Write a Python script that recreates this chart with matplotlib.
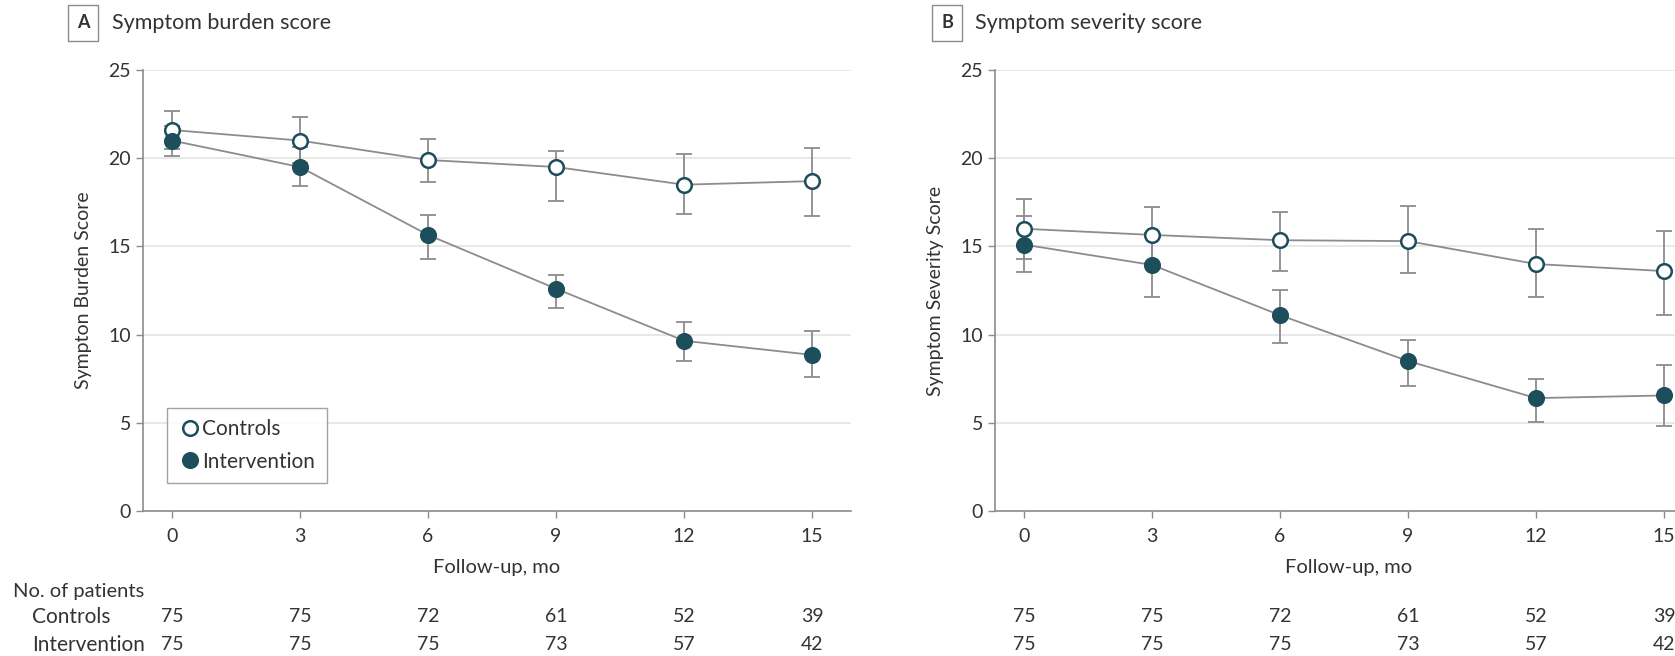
import matplotlib
matplotlib.use("Agg")
import matplotlib.pyplot as plt
from matplotlib.transforms import blended_transform_factory

plt.rcParams['font.family'] = ['Lato', 'DejaVu Sans']

months = [0, 3, 6, 9, 12, 15]

# panel A: symptom burden score
burden_ctrl = [21.6, 21.0, 19.9, 19.5, 18.5, 18.7]
burden_ctrl_lo = [20.5, 19.7, 18.65, 17.55, 16.85, 16.7]
burden_ctrl_hi = [22.7, 22.35, 21.1, 20.4, 20.25, 20.6]
burden_int = [21.0, 19.5, 15.65, 12.6, 9.65, 8.85]
burden_int_lo = [20.15, 18.4, 14.3, 11.5, 8.5, 7.6]
burden_int_hi = [21.85, 20.65, 16.8, 13.4, 10.7, 10.2]

# panel B: symptom severity score
sev_ctrl = [16.0, 15.65, 15.35, 15.3, 14.0, 13.6]
sev_ctrl_lo = [14.3, 14.05, 13.6, 13.5, 12.15, 11.1]
sev_ctrl_hi = [17.7, 17.25, 16.95, 17.3, 16.0, 15.85]
sev_int = [15.1, 13.95, 11.1, 8.5, 6.4, 6.55]
sev_int_lo = [13.55, 12.15, 9.55, 7.1, 5.05, 4.8]
sev_int_hi = [16.75, 15.75, 12.55, 9.7, 7.5, 8.25]

n_ctrl = [75, 75, 72, 61, 52, 39]
n_int = [75, 75, 75, 73, 57, 42]

TEAL = '#1d4e5b'
GRAY = '#8c8c8c'
TXT = '#333333'

fig = plt.figure(figsize=(16.75, 6.56), dpi=100)
W, H = 1675, 656


def make_axes(left_px):
    ax = fig.add_axes([left_px / W, 1 - 511 / H, 708 / W, 441 / H])
    ax.set_xlim(-0.68, 15.91)
    ax.set_ylim(0, 25)
    ax.set_xticks(months)
    ax.set_yticks([0, 5, 10, 15, 20, 25])
    for s in ['top', 'right']:
        ax.spines[s].set_visible(False)
    for s in ['left', 'bottom']:
        ax.spines[s].set_color(GRAY)
        ax.spines[s].set_linewidth(1.2)
    ax.tick_params(colors=GRAY, labelcolor=TXT, labelsize=14, length=5, width=1)
    ax.tick_params(axis='x', pad=7)
    ax.yaxis.grid(True, color='#e4e4e4', linewidth=1.2)
    ax.set_axisbelow(True)
    ax.set_xlabel('Follow-up, mo', fontsize=14.5, color=TXT, labelpad=10)
    return ax


def draw_series(ax, y, lo, hi, filled, label):
    yerr = [[m - l for m, l in zip(y, lo)], [h - m for m, h in zip(y, hi)]]
    ax.errorbar(months, y, yerr=yerr, fmt='none', ecolor=GRAY, elinewidth=1.3,
                capsize=6, capthick=1.3, zorder=2)
    ax.plot(months, y, color=GRAY, linewidth=1.3, zorder=3)
    ax.plot(months, y, linestyle='none', marker='o', markersize=10.5,
            markerfacecolor=TEAL if filled else 'white',
            markeredgecolor=TEAL, markeredgewidth=1.8, zorder=4, label=label)


def add_counts(ax):
    tr = blended_transform_factory(ax.transData, fig.transFigure)
    for x, a, b in zip(months, n_ctrl, n_int):
        ax.text(x, 1 - 617 / H, str(a), transform=tr, ha='center', va='center',
                fontsize=14, color=TXT, clip_on=False)
        ax.text(x, 1 - 645 / H, str(b), transform=tr, ha='center', va='center',
                fontsize=14, color=TXT, clip_on=False)


def panel_title(x_box, x_text, letter, title):
    fig.text(x_box / W, 1 - 23 / H, letter, fontsize=13, fontweight='bold',
             color=TXT, ha='center', va='center',
             bbox=dict(boxstyle='square,pad=0.5', facecolor='white',
                       edgecolor=GRAY, linewidth=1))
    fig.text(x_text / W, 1 - 23 / H, title, fontsize=15.5, color=TXT,
             ha='left', va='center')


axA = make_axes(143)
draw_series(axA, burden_ctrl, burden_ctrl_lo, burden_ctrl_hi, False, 'Controls')
draw_series(axA, burden_int, burden_int_lo, burden_int_hi, True, 'Intervention')
axA.set_ylabel('Sympton Burden Score', fontsize=14, color=TXT, labelpad=12)
leg = axA.legend(loc='lower left', bbox_to_anchor=(0.034, 0.063), fontsize=15,
                 frameon=True, fancybox=False, handletextpad=0.05,
                 handlelength=1.1, borderpad=0.55, labelspacing=0.6,
                 borderaxespad=0)
leg.get_frame().set_edgecolor(GRAY)
leg.get_frame().set_linewidth(1)
for t in leg.get_texts():
    t.set_color(TXT)
add_counts(axA)

axB = make_axes(995)
draw_series(axB, sev_ctrl, sev_ctrl_lo, sev_ctrl_hi, False, 'Controls')
draw_series(axB, sev_int, sev_int_lo, sev_int_hi, True, 'Intervention')
axB.set_ylabel('Symptom Severity Score', fontsize=14, color=TXT, labelpad=12)
add_counts(axB)

panel_title(83, 112, 'A', 'Symptom burden score')
panel_title(947, 975, 'B', 'Symptom severity score')

fig.text(13 / W, 1 - 592 / H, 'No. of patients', fontsize=14.5, color=TXT,
         ha='left', va='center')
fig.text(32 / W, 1 - 617 / H, 'Controls', fontsize=15, color=TXT,
         ha='left', va='center')
fig.text(32 / W, 1 - 645 / H, 'Intervention', fontsize=15, color=TXT,
         ha='left', va='center')

fig.savefig('out.png', dpi=100)
